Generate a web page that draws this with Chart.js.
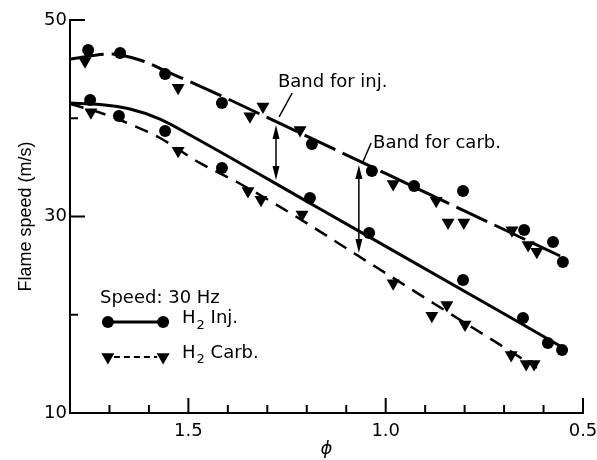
<!DOCTYPE html>
<html>
<head>
<meta charset="utf-8">
<script src="https://cdn.jsdelivr.net/npm/chart.js@4.4.1/dist/chart.umd.min.js"></script>
<style>
  html, body { margin: 0; padding: 0; background: #fff; }
</style>
</head>
<body>
<canvas id="myChart" width="597" height="460"></canvas>
<script>
const circUpperPhi   = [1.754, 1.673, 1.559, 1.415, 1.187, 1.035, 0.928, 0.804, 0.649, 0.576, 0.551];
const circUpperSpeed = [46.95, 46.64, 44.50, 41.55, 37.38, 34.63, 33.10, 32.60, 28.63, 27.40, 25.37];

const triUpperPhi   = [1.762, 1.526, 1.344, 1.311, 1.217, 0.981, 0.872, 0.842, 0.802, 0.680, 0.639, 0.617];
const triUpperSpeed = [45.8, 43.1, 40.2, 41.2, 38.8, 33.3, 31.6, 29.4, 29.4, 28.6, 27.1, 26.4];

const circLowerPhi   = [1.749, 1.676, 1.559, 1.415, 1.192, 1.042, 0.804, 0.652, 0.589, 0.553];
const circLowerSpeed = [41.86, 40.23, 38.70, 34.94, 31.88, 28.32, 23.54, 19.67, 17.12, 16.41];

const triLowerPhi   = [1.747, 1.526, 1.349, 1.316, 1.212, 0.981, 0.883, 0.845, 0.799, 0.682, 0.644, 0.624];
const triLowerSpeed = [40.6, 36.7, 32.6, 31.7, 30.2, 23.2, 19.9, 21.0, 19.0, 15.9, 15.0, 15.0];

// faired curves through the data
const upperCurvePhi   = [1.800, 1.699, 1.623, 1.547, 1.471, 1.217, 0.837, 0.558];
const upperCurveSpeed = [46.03, 46.54, 45.93, 44.61, 43.28, 38.50, 31.27, 25.98];

const solidCurvePhi   = [1.800, 1.724, 1.648, 1.572, 1.496, 1.184, 0.677, 0.558];
const solidCurveSpeed = [41.55, 41.40, 40.94, 39.92, 38.30, 31.17, 19.57, 16.82];

const dashCurvePhi   = [1.800, 1.729, 1.661, 1.572, 1.471, 1.377, 1.242, 1.073, 0.880, 0.693, 0.617];
const dashCurveSpeed = [41.45, 40.64, 39.62, 37.99, 35.45, 33.51, 30.36, 26.08, 21.20, 16.51, 14.58];

const phiLabels   = [1.5, 1.0, 0.5];
const speedLabels = [10, 30, 50];

const toPts = (xs, ys) => xs.map((x, i) => ({ x: x, y: ys[i] }));
const isMajor = (v, list) => list.some(l => Math.abs(l - v) < 1e-6);

const FONT = '"DejaVu Sans", sans-serif';

// annotation text, arrows and the in-plot key
const decorations = {
  id: 'decorations',
  afterDraw(chart) {
    const ctx = chart.ctx;
    const xs = chart.scales.x, ys = chart.scales.y;
    const px = v => xs.getPixelForValue(v);
    const py = v => ys.getPixelForValue(v);
    ctx.save();
    ctx.strokeStyle = '#000';
    ctx.fillStyle = '#000';

    // inward tick marks
    ctx.lineWidth = 2;
    xs.ticks.forEach(t => {
      if (Math.abs(t.value - xs.max) < 1e-6) return;
      const x = px(t.value);
      const len = isMajor(t.value, phiLabels) ? 15 : 8;
      ctx.beginPath(); ctx.moveTo(x, ys.bottom); ctx.lineTo(x, ys.bottom - len); ctx.stroke();
    });
    ys.ticks.forEach(t => {
      if (Math.abs(t.value - ys.min) < 1e-6) return;
      const y = py(t.value);
      const len = isMajor(t.value, speedLabels) ? 15 : 8;
      ctx.beginPath(); ctx.moveTo(xs.left, y); ctx.lineTo(xs.left + len, y); ctx.stroke();
    });

    // double arrows marking the bands
    function arrow(phi, s1, s2) {
      const x = px(phi), y1 = py(s1), y2 = py(s2);
      ctx.lineWidth = 1.5;
      ctx.beginPath(); ctx.moveTo(x, y1 + 4); ctx.lineTo(x, y2 - 4); ctx.stroke();
      ctx.beginPath(); ctx.moveTo(x, y1); ctx.lineTo(x - 3.5, y1 + 14); ctx.lineTo(x + 3.5, y1 + 14); ctx.closePath(); ctx.fill();
      ctx.beginPath(); ctx.moveTo(x, y2); ctx.lineTo(x - 3.5, y2 - 14); ctx.lineTo(x + 3.5, y2 - 14); ctx.closePath(); ctx.fill();
    }
    arrow(1.278, 39.31, 33.71);
    arrow(1.068, 35.24, 26.28);

    // leader lines
    ctx.lineWidth = 1.5;
    ctx.beginPath(); ctx.moveTo(px(1.237), py(42.57)); ctx.lineTo(px(1.270), py(40.13)); ctx.stroke();
    ctx.beginPath(); ctx.moveTo(px(1.037), py(37.48)); ctx.lineTo(px(1.060), py(35.34)); ctx.stroke();

    ctx.font = '18px ' + FONT;
    ctx.textAlign = 'left';
    ctx.textBaseline = 'middle';
    ctx.fillText('Band for inj.', px(1.273), py(43.69));
    ctx.fillText('Band for carb.', px(1.032), py(37.48));

    // key
    ctx.fillText('Speed: 30 Hz', px(1.724), py(21.70));
    function h2(label, phi, s) {
      let x = px(phi);
      const y = py(s);
      ctx.font = '18px ' + FONT;
      ctx.fillText('H', x, y);
      x += ctx.measureText('H').width + 1;
      ctx.font = '13px ' + FONT;
      ctx.fillText('2', x, y + 7);
      x += ctx.measureText('2').width;
      ctx.font = '18px ' + FONT;
      ctx.fillText(' ' + label, x, y);
    }
    const k1 = py(19.26), k2 = py(15.70);
    const kx1 = px(1.704), kx2 = px(1.564);
    ctx.lineWidth = 3;
    ctx.setLineDash([]);
    ctx.beginPath(); ctx.moveTo(kx1, k1); ctx.lineTo(kx2, k1); ctx.stroke();
    ctx.lineWidth = 2;
    ctx.setLineDash([6, 4]);
    ctx.beginPath(); ctx.moveTo(kx1 + 6, k2); ctx.lineTo(kx2 - 6, k2); ctx.stroke();
    ctx.setLineDash([]);
    [kx1, kx2].forEach(x => {
      ctx.beginPath(); ctx.arc(x, k1, 6, 0, Math.PI * 2); ctx.fill();
      ctx.beginPath(); ctx.moveTo(x, k2 + 7.5); ctx.lineTo(x - 6.5, k2 - 3.75); ctx.lineTo(x + 6.5, k2 - 3.75); ctx.closePath(); ctx.fill();
    });
    h2('Inj.', 1.516, 19.6);
    h2('Carb.', 1.516, 16.1);
    ctx.restore();
  }
};

const canvas = document.getElementById('myChart');
const ctx = canvas.getContext('2d');

const lineStyle = { showLine: true, pointRadius: 0, borderColor: '#000', fill: false, cubicInterpolationMode: 'monotone' };
const circStyle = { showLine: false, pointStyle: 'circle', pointRadius: 6, backgroundColor: '#000', borderColor: '#000', borderWidth: 0 };
const triStyle  = { showLine: false, pointStyle: 'triangle', rotation: 180, pointRadius: 7.5, backgroundColor: '#000', borderColor: '#000', borderWidth: 0 };

const config = {
  type: 'scatter',
  data: {
    datasets: [
      Object.assign({ label: 'H2 Inj. (upper)', data: toPts(circUpperPhi, circUpperSpeed), order: 1 }, circStyle),
      Object.assign({ label: 'H2 Carb. (upper)', data: toPts(triUpperPhi, triUpperSpeed), order: 1 }, triStyle),
      Object.assign({ label: 'H2 Inj.', data: toPts(circLowerPhi, circLowerSpeed), order: 1 }, circStyle),
      Object.assign({ label: 'H2 Carb.', data: toPts(triLowerPhi, triLowerSpeed), order: 1 }, triStyle),
      Object.assign({ label: 'upper band', data: toPts(upperCurvePhi, upperCurveSpeed), borderWidth: 3, borderDash: [34, 8], order: 2 }, lineStyle),
      Object.assign({ label: 'solid', data: toPts(solidCurvePhi, solidCurveSpeed), borderWidth: 3, order: 2 }, lineStyle),
      Object.assign({ label: 'dashed', data: toPts(dashCurvePhi, dashCurveSpeed), borderWidth: 2.5, borderDash: [14, 9], order: 2 }, lineStyle)
    ]
  },
  options: {
    responsive: false,
    animation: false,
    devicePixelRatio: 1,
    layout: { padding: { top: 20, right: 14, left: 0, bottom: 0 } },
    plugins: { legend: { display: false }, tooltip: { enabled: false } },
    scales: {
      x: {
        type: 'linear',
        reverse: true,
        min: 0.5,
        max: 1.8,
        afterFit: s => { s.height = 47; s.paddingLeft = 0; s.paddingRight = 0; },
        grid: { display: false, drawTicks: false },
        border: { display: true, color: '#000', width: 2 },
        ticks: {
          stepSize: 0.1,
          padding: 8,
          color: '#000',
          font: { family: FONT, size: 18 },
          autoSkip: false,
          maxRotation: 0,
          callback: v => isMajor(v, phiLabels) ? v.toFixed(1) : ''
        },
        title: { display: true, text: 'ϕ', color: '#000', font: { family: FONT, size: 18, style: 'italic' }, padding: { top: 0, bottom: 0 } }
      },
      y: {
        min: 10,
        max: 50,
        afterFit: s => { s.width = 70; s.paddingTop = 0; s.paddingBottom = 0; },
        grid: { display: false, drawTicks: false },
        border: { display: true, color: '#000', width: 2 },
        ticks: {
          stepSize: 10,
          padding: 3,
          color: '#000',
          font: { family: FONT, size: 18 },
          callback: v => isMajor(v, speedLabels) ? String(v) : ''
        },
        title: { display: true, text: 'Flame speed (m/s)', color: '#000', font: { family: '"Liberation Sans", Arial, sans-serif', size: 18 }, padding: { top: 15, bottom: 0 } }
      }
    }
  },
  plugins: [decorations]
};

var myChart = new Chart(ctx, config);
</script>
</body>
</html>
